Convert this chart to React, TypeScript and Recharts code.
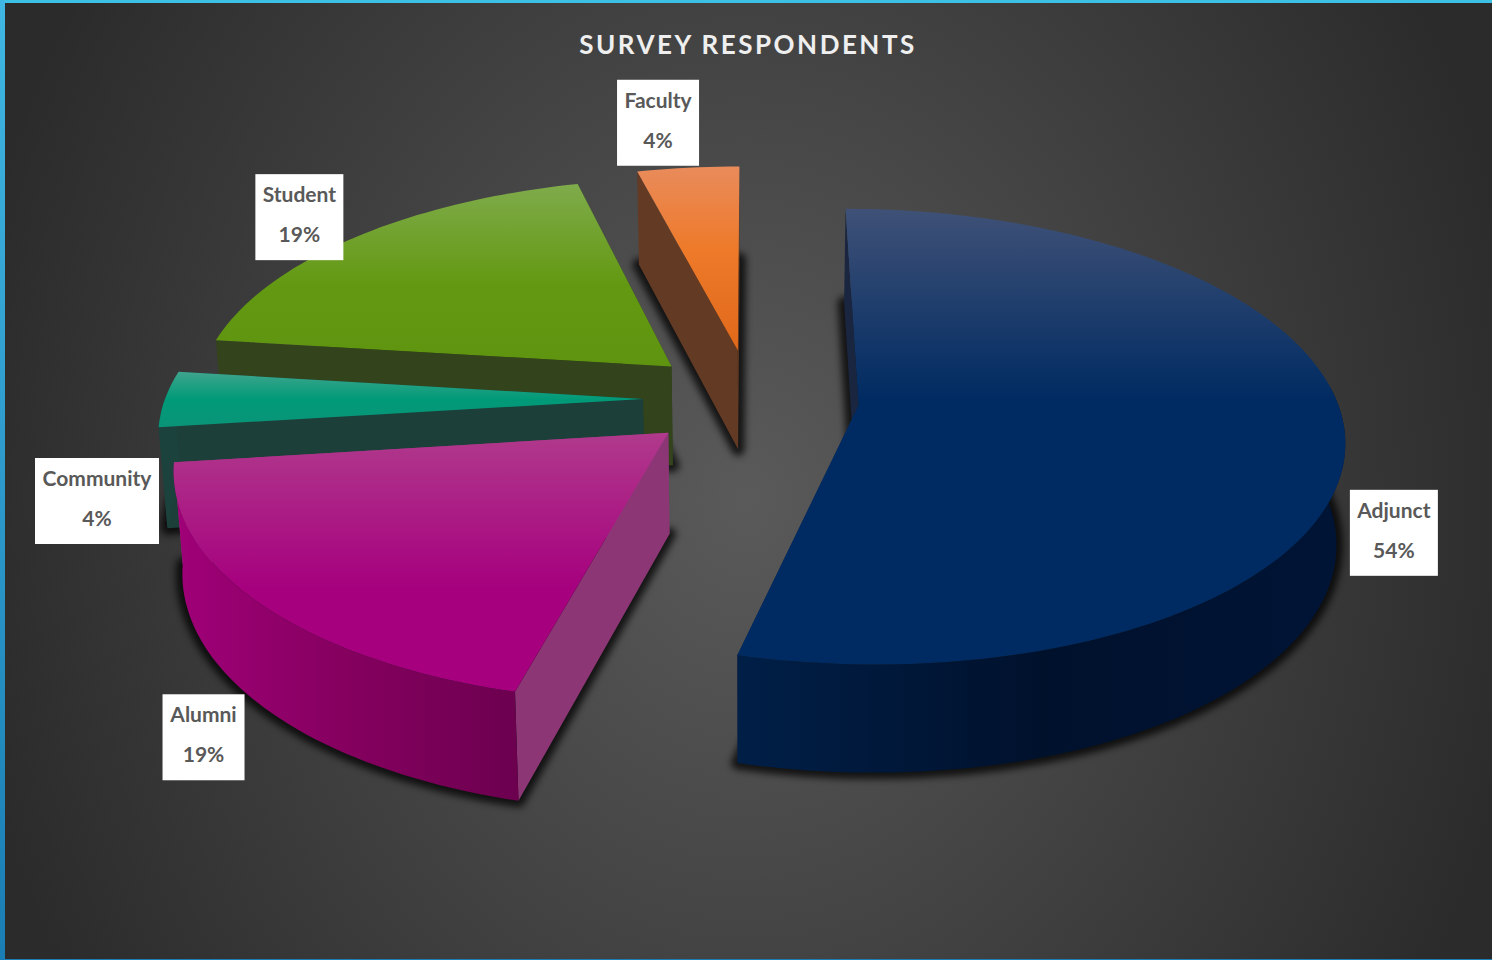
import React from 'react';
import { PieChart, Pie } from 'recharts';

// Data, in the order the slices are painted: back to front, counter-clockwise from 12 o'clock
const categories = ['Faculty', 'Student', 'Community', 'Alumni', 'Adjunct'];
const shares = [4, 19, 4, 19, 54];

const chartData = categories.map((name, i) => ({ name, value: shares[i] }));

// Projection of the flat pie onto the tilted, perspective view
const TILT = 0.464;
const PERSPECTIVE = 3490;
const DEPTH = 100;
const BASE_SHRINK = 0.985;
const EXPLODE = 108;
const RAD = Math.PI / 180;

const FONT = 'Lato, "Open Sans", sans-serif';

type Look = {
  top: [string, string, string];
  topStop: number;
  radial: string;
  outer: [string, string, string];
  labelDx: number;
  labelDy: number;
  labelW: number;
};

const looks: Record<string, Look> = {
  Faculty: { top: ['#e98b5b', '#ee7a2a', '#e0681a'], topStop: 0.45, radial: '#633a23', outer: ['#633a23', '#633a23', '#633a23'], labelDx: -30, labelDy: -45, labelW: 82 },
  Student: { top: ['#7fab4b', '#639912', '#5f9410'], topStop: 0.55, radial: '#33431c', outer: ['#33431c', '#33431c', '#33431c'], labelDx: -56, labelDy: -20, labelW: 88 },
  Community: { top: ['#3fa58d', '#009a78', '#0a9478'], topStop: 0.5, radial: '#1c3f3a', outer: ['#1c423d', '#1c423d', '#1c423d'], labelDx: -68, labelDy: 102, labelW: 124 },
  Alumni: { top: ['#b03a8c', '#a6007e', '#a6007e'], topStop: 0.6, radial: '#8c3675', outer: ['#a00078', '#85005f', '#6c004f'], labelDx: -53, labelDy: 136, labelW: 82 },
  Adjunct: { top: ['#3f5177', '#002b62', '#002b62'], topStop: 0.42, radial: '#1a2540', outer: ['#001f47', '#00112c', '#001436'], labelDx: 49, labelDy: 99, labelW: 88 },
};

function project(cx: number, cy: number, X: number, Y: number) {
  const s = 1 / (1 + Y / PERSPECTIVE);
  return { x: cx + X * s, y: cy - Y * TILT * s, d: DEPTH * (1 + (s - 1) * 0.5), cx };
}

function pointAt(cx: number, cy: number, r: number, mid: number, a: number) {
  const X = EXPLODE * Math.cos(mid * RAD) + r * Math.cos(a * RAD);
  const Y = EXPLODE * Math.sin(mid * RAD) + r * Math.sin(a * RAD);
  return project(cx, cy, X, Y);
}

type P = { x: number; y: number; d: number; cx: number };
const fmt = (n: number) => n.toFixed(1);
const baseX = (p: P) => p.cx + (p.x - p.cx) * BASE_SHRINK;
const topPath = (pts: P[]) => 'M' + pts.map((p) => `${fmt(p.x)},${fmt(p.y)}`).join('L') + 'Z';
const basePath = (pts: P[]) => 'M' + pts.map((p) => `${fmt(baseX(p))},${fmt(p.y + p.d)}`).join('L') + 'Z';
const wallPath = (pts: P[]) => {
  const up = pts.map((p) => `${fmt(p.x)},${fmt(p.y)}`);
  const down = [...pts].reverse().map((p) => `${fmt(baseX(p))},${fmt(p.y + p.d)}`);
  return 'M' + [...up, ...down].join('L') + 'Z';
};

function Slice3D(props: any) {
  const { cx, cy, outerRadius, startAngle, endAngle, name } = props;
  const look = looks[name] ?? looks.Adjunct;
  const mid = (startAngle + endAngle) / 2;
  const arcAngles: number[] = [];
  const steps = Math.max(4, Math.ceil((endAngle - startAngle) / 1.5));
  for (let i = 0; i <= steps; i++) arcAngles.push(startAngle + ((endAngle - startAngle) * i) / steps);
  const arc = arcAngles.map((a) => pointAt(cx, cy, outerRadius, mid, a));
  const apex = pointAt(cx, cy, 0, mid, 0);
  const outline = [apex, ...arc];
  const front = arcAngles.map((a, i) => ({ a, p: arc[i] })).filter((e) => Math.sin(e.a * RAD) < 0.1).map((e) => e.p);
  const id = `slice-${name}`;
  return (
    <g>
      <defs>
        <linearGradient id={`${id}-top`} x1="0" y1="0" x2="0" y2="1">
          <stop offset="0" stopColor={look.top[0]} />
          <stop offset={look.topStop} stopColor={look.top[1]} />
          <stop offset="1" stopColor={look.top[2]} />
        </linearGradient>
        <linearGradient id={`${id}-outer`} x1="0" y1="0" x2="1" y2="0">
          <stop offset="0" stopColor={look.outer[0]} />
          <stop offset="0.5" stopColor={look.outer[1]} />
          <stop offset="1" stopColor={look.outer[2]} />
        </linearGradient>
        <filter id={`${id}-blur`} x="-0.3" y="-0.3" width="1.6" height="1.6">
          <feGaussianBlur stdDeviation="3.5" />
        </filter>
      </defs>
      <path d={basePath(outline)} fill="#000" stroke="#000" strokeWidth={13} strokeLinejoin="round" opacity={0.75} filter={`url(#${id}-blur)`} />
      <path d={wallPath([apex, arc[0]])} fill={look.radial} />
      <path d={wallPath([apex, arc[arc.length - 1]])} fill={look.radial} />
      {front.length > 1 && <path d={wallPath(front)} fill={`url(#${id}-outer)`} />}
      <path d={topPath(outline)} fill={`url(#${id}-top)`} />
    </g>
  );
}

function BoxLabel(props: any) {
  const { cx, cy, outerRadius, midAngle, name, percent } = props;
  const look = looks[name] ?? looks.Adjunct;
  const anchor = pointAt(cx, cy, outerRadius, midAngle, midAngle);
  const x = anchor.x + look.labelDx;
  const y = anchor.y + look.labelDy;
  return (
    <g>
      <rect x={x - look.labelW / 2} y={y - 43} width={look.labelW} height={86} fill="#fff" />
      <text x={x} y={y - 15} textAnchor="middle" fontFamily={FONT} fontSize={21} fontWeight={700} fill="#595959">{name}</text>
      <text x={x} y={y + 25} textAnchor="middle" fontFamily={FONT} fontSize={21} fontWeight={700} fill="#595959">{`${Math.round(percent * 100)}%`}</text>
    </g>
  );
}

export default function App() {
  return (
    <div
      style={{
        position: 'absolute',
        left: 0,
        top: 0,
        width: 1492,
        height: 960,
        overflow: 'hidden',
        background: 'radial-gradient(ellipse 790px 950px at 50% 52%, #5a5a5a 0%, #2b2b2b 100%)',
      }}
    >
      <div style={{ position: 'absolute', left: 0, top: 0, width: 1492, height: 3, background: '#3cc0e4' }} />
      <div style={{ position: 'absolute', left: 0, top: 0, width: 5, height: 960, background: 'linear-gradient(#40b6e2, #1a7db3)' }} />
      <div style={{ position: 'absolute', left: 0, top: 959, width: 1492, height: 1, background: '#1a7db3' }} />
      <div style={{ position: 'absolute', left: 0, top: 0 }}>
        <PieChart width={1492} height={960} margin={{ top: 0, right: 0, bottom: 0, left: 0 }}>
          <text x={748} y={54} textAnchor="middle" fontFamily={FONT} fontSize={26} fontWeight={700} letterSpacing={2.5} fill="#efefef">
            SURVEY RESPONDENTS
          </text>
          <Pie
            data={chartData}
            dataKey="value"
            nameKey="name"
            cx={751}
            cy={399}
            innerRadius={0}
            outerRadius={478}
            startAngle={90}
            endAngle={450}
            paddingAngle={0}
            isAnimationActive={false}
            shape={Slice3D}
            label={BoxLabel}
            labelLine={false}
          />
        </PieChart>
      </div>
    </div>
  );
}
